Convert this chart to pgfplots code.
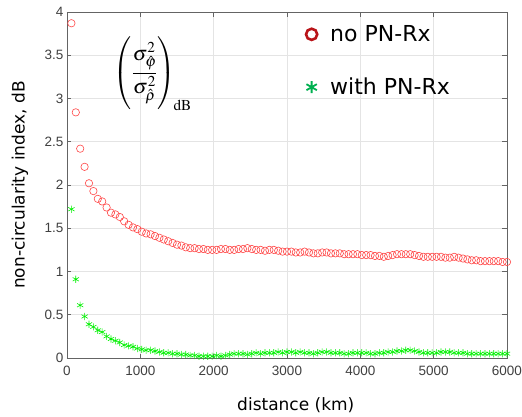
\documentclass[border=0pt]{standalone}
\usepackage{mathptmx}
\usepackage[no-math]{fontspec}
\usepackage{pgfplots}
\usepackage{pgfplotstable}
\pgfplotsset{compat=1.18}
\newfontfamily\dejavu{DejaVu Sans}
\newfontfamily\arial{Liberation Sans}
\definecolor{axgray}{RGB}{100,100,100}
\definecolor{ticktxt}{RGB}{64,64,64}
\definecolor{gridc}{RGB}{228,228,228}
\definecolor{ptred}{RGB}{255,70,70}
\definecolor{ptgreen}{RGB}{0,240,0}
\definecolor{legred}{RGB}{185,20,25}
\definecolor{leggreen}{RGB}{0,176,80}

\pgfplotstableread{
d v
60 3.87
120 2.84
180 2.42
240 2.21
300 2.02
360 1.93
420 1.84
480 1.81
540 1.74
600 1.68
660 1.66
720 1.63
780 1.58
840 1.54
900 1.51
960 1.49
1020 1.46
1080 1.44
1140 1.43
1200 1.41
1260 1.39
1320 1.37
1380 1.35
1440 1.33
1500 1.31
1560 1.30
1620 1.28
1680 1.27
1740 1.27
1800 1.26
1860 1.26
1920 1.25
1980 1.25
2040 1.25
2100 1.26
2160 1.26
2220 1.25
2280 1.25
2340 1.26
2400 1.26
2460 1.27
2520 1.26
2580 1.25
2640 1.25
2700 1.24
2760 1.25
2820 1.25
2880 1.24
2940 1.23
3000 1.23
3060 1.23
3120 1.22
3180 1.22
3240 1.23
3300 1.22
3360 1.21
3420 1.21
3480 1.22
3540 1.22
3600 1.21
3660 1.21
3720 1.21
3780 1.20
3840 1.20
3900 1.20
3960 1.20
4020 1.19
4080 1.19
4140 1.19
4200 1.18
4260 1.18
4320 1.17
4380 1.18
4440 1.19
4500 1.20
4560 1.20
4620 1.20
4680 1.20
4740 1.19
4800 1.18
4860 1.17
4920 1.17
4980 1.17
5040 1.17
5100 1.17
5160 1.16
5220 1.16
5280 1.17
5340 1.16
5400 1.15
5460 1.14
5520 1.13
5580 1.13
5640 1.12
5700 1.12
5760 1.12
5820 1.12
5880 1.12
5940 1.11
6000 1.11
}\noPN

\pgfplotstableread{
d v
60 1.72
120 0.91
180 0.61
240 0.48
300 0.39
360 0.36
420 0.32
480 0.30
540 0.25
600 0.22
660 0.20
720 0.18
780 0.15
840 0.14
900 0.13
960 0.11
1020 0.10
1080 0.09
1140 0.09
1200 0.08
1260 0.07
1320 0.06
1380 0.06
1440 0.05
1500 0.05
1560 0.04
1620 0.04
1680 0.03
1740 0.03
1800 0.02
1860 0.02
1920 0.02
1980 0.02
2040 0.03
2100 0.02
2160 0.03
2220 0.04
2280 0.05
2340 0.05
2400 0.05
2460 0.04
2520 0.05
2580 0.06
2640 0.05
2700 0.06
2760 0.06
2820 0.06
2880 0.07
2940 0.06
3000 0.07
3060 0.07
3120 0.06
3180 0.07
3240 0.06
3300 0.06
3360 0.05
3420 0.06
3480 0.07
3540 0.07
3600 0.06
3660 0.06
3720 0.06
3780 0.05
3840 0.05
3900 0.06
3960 0.06
4020 0.06
4080 0.06
4140 0.05
4200 0.05
4260 0.06
4320 0.06
4380 0.07
4440 0.07
4500 0.08
4560 0.08
4620 0.09
4680 0.09
4740 0.08
4800 0.07
4860 0.06
4920 0.06
4980 0.06
5040 0.06
5100 0.07
5160 0.07
5220 0.07
5280 0.06
5340 0.06
5400 0.06
5460 0.05
5520 0.05
5580 0.05
5640 0.05
5700 0.05
5760 0.05
5820 0.05
5880 0.05
5940 0.05
6000 0.05
}\withPN

\begin{document}
\begin{tikzpicture}
\useasboundingbox (-67pt,-58pt) rectangle (455pt,358pt);
\begin{axis}[
  scale only axis, width=440pt, height=346pt,
  at={(0pt,0pt)}, anchor=south west,
  xmin=0, xmax=6000, ymin=0, ymax=4,
  xtick={0,1000,2000,3000,4000,5000,6000},
  ytick={0,0.5,1,1.5,2,2.5,3,3.5,4},
  scaled x ticks=false,
  /pgf/number format/1000 sep={},
  /pgf/number format/assume math mode=true,
  tick label style={font=\arial\fontsize{13.5}{16}\selectfont, text=ticktxt},
  xticklabel style={yshift=-5pt},
  tick align=inside, tick pos=both,
  major tick length=4.5pt,
  every tick/.style={axgray, line width=0.6pt},
  axis line style={axgray, line width=0.8pt},
  grid=major,
  major grid style={gridc, line width=0.6pt},
  clip=false,
  xlabel={distance (km)},
  ylabel={non-circularity index, dB},
  label style={font=\dejavu\fontsize{17}{20}\selectfont, text=black},
  xlabel style={at={(axis description cs:0.52,-0.113)}, anchor=north, inner sep=0pt},
  ylabel style={at={(axis description cs:-0.107,0.5)}, anchor=center, inner sep=0pt},
  legend style={at={(rel axis cs:0.536,0.973)}, anchor=north west, draw=none, fill=none,
    font=\dejavu\fontsize{22}{26}\selectfont, row sep=31pt, text=black,
    /tikz/every odd column/.append style={column sep=11pt}},
  legend cell align=left,
]
\addplot[only marks, mark=o, mark size=3.7pt, draw=ptred, line width=0.6pt, forget plot] table[x=d,y=v] {\noPN};
\addplot[only marks, mark=asterisk, mark size=3.6pt, draw=ptgreen, line width=0.6pt, forget plot] table[x=d,y=v] {\withPN};
\addlegendimage{only marks, mark=o, mark size=5.6pt, line width=2.6pt, draw=legred}
\addlegendentry{no PN-Rx}
\addlegendimage{only marks, mark=asterisk, mark size=6pt, line width=1.8pt, draw=leggreen}
\addlegendentry{with PN-Rx}
\node[font=\fontsize{20.5}{24}\selectfont, inner sep=0pt] at (rel axis cs:0.195,0.822)
  {$\displaystyle\left(\rule[-31pt]{0pt}{70pt}\frac{\sigma^2_{\hat{\varphi}}}{\sigma^2_{\hat{\rho}}}\right)_{\!\mathrm{dB}}$};
\end{axis}
\end{tikzpicture}
\end{document}
